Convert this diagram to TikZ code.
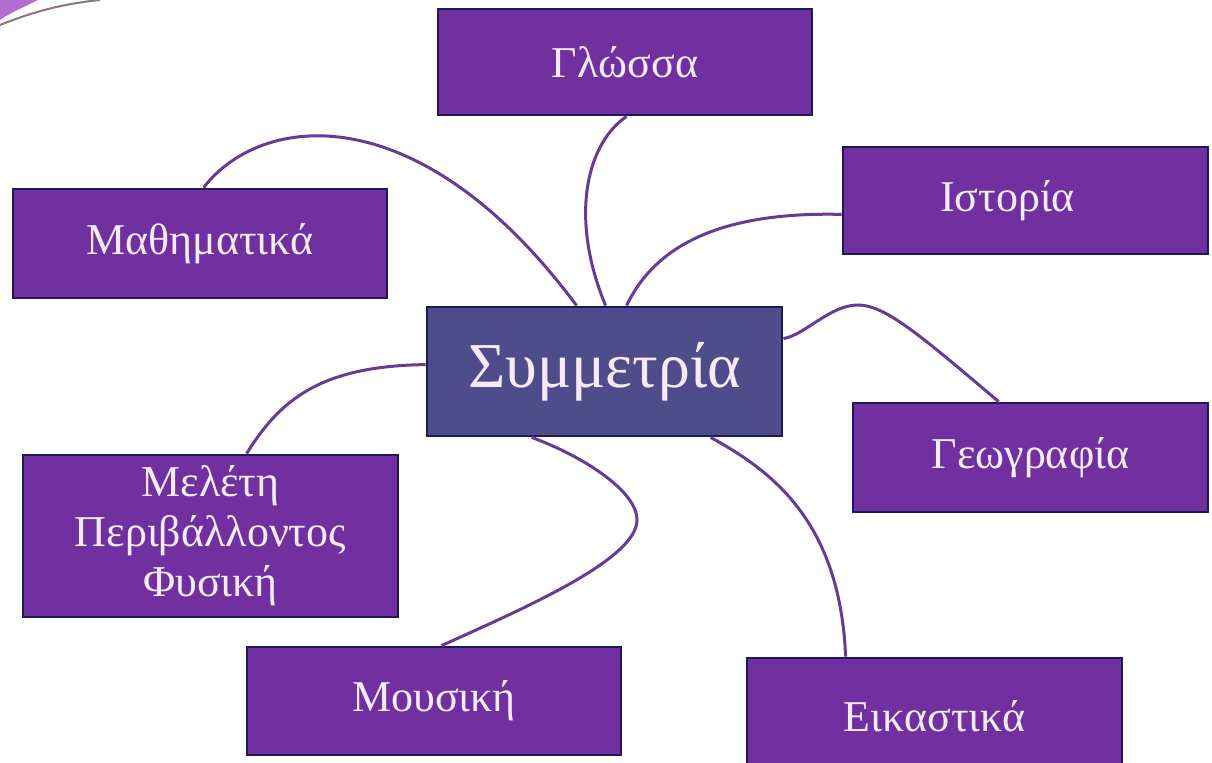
\documentclass[tikz,border=0pt]{standalone}
\usepackage{fontspec}
\setmainfont{Liberation Serif}
\usetikzlibrary{calc}
\definecolor{boxfill}{HTML}{7030A0}
\definecolor{symfill}{HTML}{504C8C}
\definecolor{boxline}{HTML}{1E1A5A}
\definecolor{conn}{HTML}{643C96}
\definecolor{txt}{HTML}{F6EAF6}
\definecolor{decofill}{HTML}{B46CD2}
\definecolor{decoline}{HTML}{8A7680}
\tikzset{
  topic/.style={rectangle, draw=boxline, line width=1.4pt, fill=boxfill, text=txt,
    font=\fontsize{22}{25}\selectfont, align=center, inner sep=0pt},
  central/.style={topic, fill=symfill, font=\fontsize{32}{38}\selectfont},
  link/.style={draw=conn, line width=1.5pt},
}
\begin{document}
\begin{tikzpicture}[x=0.5pt,y=-0.5pt]
\useasboundingbox (0,0) rectangle (1212,763);
\fill[white] (0,0) rectangle (1212,763);
% corner decoration
\fill[decofill] (0,0) -- (38,0) .. controls (22,8) and (8,14) .. (0,20) -- cycle;
\draw[decoline, line width=1pt] (0,25) .. controls (30,13) and (60,4) .. (100,0);
% nodes
\node[topic, minimum width=187pt, minimum height=53pt] (glo) at (625,62) {Γλώσσα};
\node[topic, minimum width=187pt, minimum height=54.5pt] (mat) at (200,243.5) {Μαθηματικά};
\node[topic, minimum width=182.5pt, minimum height=53.5pt] (ist) at (1025.5,200.5) {Ιστορία\hspace*{18pt}};
\node[central, minimum width=177.5pt, minimum height=64.5pt] (sym) at (604.5,371.5) {Συμμετρία};
\node[topic, minimum width=177.5pt, minimum height=54.5pt] (geo) at (1030.5,457.5) {Γεωγραφία};
\node[topic, minimum width=187.5pt, minimum height=81pt] (mel) at (210.5,536) {Μελέτη\\Περιβάλλοντος\\Φυσική};
\node[topic, minimum width=187pt, minimum height=54pt] (mou) at (434,701) {Μουσική};
\node[topic, minimum width=187.5pt, minimum height=58.5pt] (eik) at (934.5,716.5) {Εικαστικά};
% connectors
\draw[link] ($(mat.north west)+(192,0)$) .. controls (262,112) and (420,95) .. ($(sym.north west)+(151,0)$);
\draw[link] ($(glo.south west)+(190,0)$) .. controls (585,145) and (570,220) .. ($(sym.north west)+(180,0)$);
\draw[link] ($(ist.south west)+(0,-41)$) .. controls (740,212) and (660,235) .. ($(sym.north west)+(201,0)$);
\draw[link] ($(sym.north east)+(0,33)$) .. controls (805,335) and (830,305) .. (858,305)
   .. controls (885,305) and (920,335) .. ($(geo.north west)+(147,0)$);
\draw[link] ($(sym.south west)+(285,0)$) .. controls (770,470) and (840,520) .. ($(eik.north west)+(100,0)$);
\draw[link] ($(sym.south west)+(106,0)$) .. controls (580,455) and (637,490) .. (637,520)
   .. controls (637,560) and (520,610) .. ($(mou.north west)+(196,0)$);
\draw[link] ($(mel.north west)+(225,0)$) .. controls (280,400) and (320,366) .. ($(sym.north west)+(0,59)$);
\end{tikzpicture}
\end{document}
